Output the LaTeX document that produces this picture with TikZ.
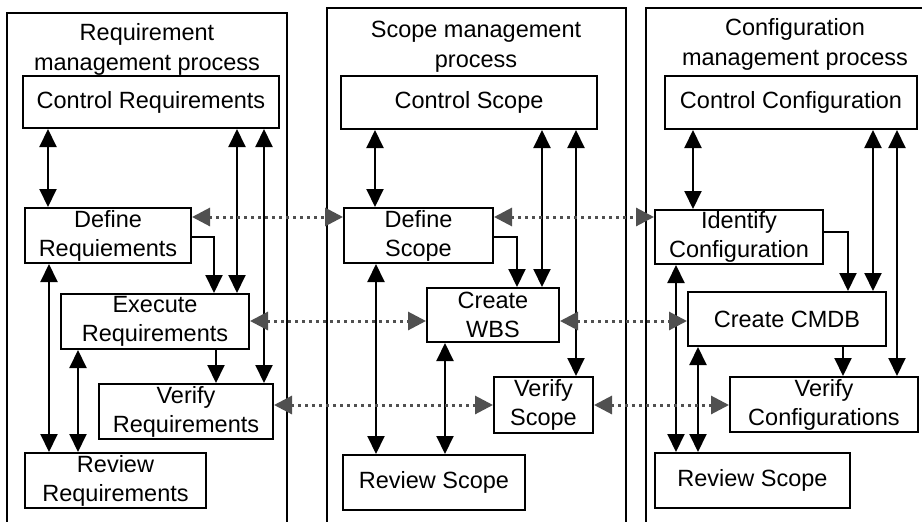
\documentclass[tikz,border=0pt]{standalone}
\usepackage{fontspec}
\setmainfont{Liberation Sans}
\usetikzlibrary{arrows.meta}
\definecolor{dotgray}{RGB}{80,80,80}
\begin{document}
\begin{tikzpicture}[x=1pt,y=-1pt,
  panel/.style={draw, line width=2pt},
  box/.style={draw, line width=2pt, fill=white, inner sep=0pt, align=center,
    font=\fontsize{23.5}{29}\selectfont},
  ttl/.style={inner sep=0pt, align=center, font=\fontsize{23.5}{30}\selectfont},
  link/.style={line width=2pt, -{Triangle[length=18pt,width=17pt]}},
  dlink/.style={line width=2pt, {Triangle[length=18pt,width=17pt]}-{Triangle[length=18pt,width=17pt]}},
  peer/.style={draw=dotgray, line width=3pt, dash pattern=on 3pt off 4pt,
    {Triangle[length=18pt,width=18pt,fill=dotgray]}-{Triangle[length=18pt,width=18pt,fill=dotgray]}}
]
\useasboundingbox (0,0) rectangle (922,522);
\clip (0,0) rectangle (922,522);

% three process panels (open at the bottom and right of the page)
\draw[panel] (7,540) -- (7,13) -- (287,13) -- (287,540);
\draw[panel] (327,540) -- (327,8) -- (626,8) -- (626,540);
\draw[panel] (646,540) -- (646,8) -- (950,8);

\node[ttl] (t1) at (147,49) {Requirement\\management process};
\node[ttl] (t2) at (476,47) {Scope management\\process};
\node[ttl] (t3) at (795,44) {Configuration\\management process};

% requirement management
\node[box, minimum width=256, minimum height=52] (creq) at (151,102) {Control Requirements};
\node[box, minimum width=166, minimum height=55] (dreq) at (108,235.5) {Define\\Requiements};
\node[box, minimum width=188, minimum height=55] (ereq) at (155,321.5) {Execute\\Requirements};
\node[box, minimum width=174, minimum height=55] (vreq) at (186,411.5) {Verify\\Requirements};
\node[box, minimum width=181, minimum height=55] (rreq) at (115.5,480.5) {Review\\Requirements};

% scope management
\node[box, minimum width=256, minimum height=53] (cscope) at (469,102.5) {Control Scope};
\node[box, minimum width=149, minimum height=55] (dscope) at (418.5,235.5) {Define\\Scope};
\node[box, minimum width=132, minimum height=54] (wbs) at (493,315) {Create\\WBS};
\node[box, minimum width=99, minimum height=56] (vscope) at (543.5,405) {Verify\\Scope};
\node[box, minimum width=182, minimum height=55] (rscope) at (434,482.5) {Review Scope};

% configuration management
\node[box, minimum width=252, minimum height=53] (ccfg) at (791,102.5) {Control Configuration};
\node[box, minimum width=168, minimum height=54] (icfg) at (739,237) {Identify\\Configuration};
\node[box, minimum width=198, minimum height=54] (cmdb) at (787,319) {Create CMDB};
\node[box, minimum width=188, minimum height=55] (vcfg) at (824,404.5) {Verify\\Configurations};
\node[box, minimum width=195, minimum height=55] (rcfg) at (752.5,480.5) {Review Scope};

% links inside the requirement process
\draw[dlink] (creq.south -| 48,0) -- (dreq.north -| 48,0);
\draw[link] (dreq.east |- 0,237) -| (ereq.north -| 214,0);
\draw[dlink] (ereq.north -| 237,0) -- (creq.south -| 237,0);
\draw[dlink] (vreq.north -| 264,0) -- (creq.south -| 264,0);
\draw[link] (ereq.south -| 216,0) -- (vreq.north -| 216,0);
\draw[dlink] (dreq.south -| 49,0) -- (rreq.north -| 49,0);
\draw[dlink] (ereq.south -| 78,0) -- (rreq.north -| 78,0);

% links inside the scope process
\draw[dlink] (cscope.south -| 375,0) -- (dscope.north -| 375,0);
\draw[link] (dscope.east |- 0,237) -| (wbs.north -| 517,0);
\draw[dlink] (wbs.north -| 542,0) -- (cscope.south -| 542,0);
\draw[dlink] (vscope.north -| 576,0) -- (cscope.south -| 576,0);
\draw[dlink] (dscope.south -| 376,0) -- (rscope.north -| 376,0);
\draw[dlink] (wbs.south -| 445,0) -- (rscope.north -| 445,0);

% links inside the configuration process
\draw[dlink] (ccfg.south -| 693,0) -- (icfg.north -| 693,0);
\draw[link] (icfg.east |- 0,232) -| (cmdb.north -| 848,0);
\draw[dlink] (cmdb.north -| 873,0) -- (ccfg.south -| 873,0);
\draw[dlink] (vcfg.north -| 897,0) -- (ccfg.south -| 897,0);
\draw[link] (cmdb.south -| 843,0) -- (vcfg.north -| 843,0);
\draw[dlink] (icfg.south -| 676,0) -- (rcfg.north -| 676,0);
\draw[dlink] (cmdb.south -| 698,0) -- (rcfg.north -| 698,0);

% dotted links between matching steps of the processes
\draw[peer] (dreq.east |- 0,217) -- (dscope.west |- 0,217);
\draw[peer] (dscope.east |- 0,217) -- (icfg.west |- 0,217);
\draw[peer] (ereq.east |- 0,321) -- (wbs.west |- 0,321);
\draw[peer] (wbs.east |- 0,321) -- (cmdb.west |- 0,321);
\draw[peer] (vreq.east |- 0,405) -- (vscope.west |- 0,405);
\draw[peer] (vscope.east |- 0,405) -- (vcfg.west |- 0,405);
\end{tikzpicture}
\end{document}
